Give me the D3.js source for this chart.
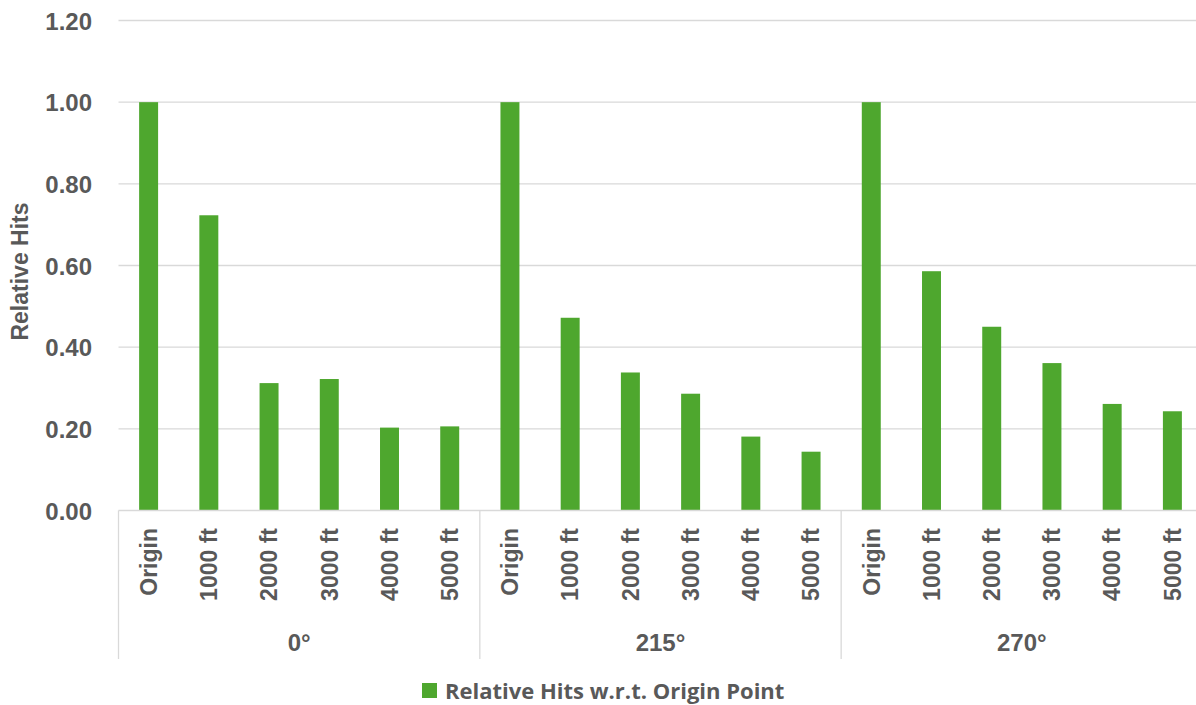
<!DOCTYPE html>
<html>
<head>
<meta charset="utf-8">
<script src="https://cdn.jsdelivr.net/npm/d3@7"></script>
<style>
  html, body { margin: 0; padding: 0; background: #fff; }
  svg { display: block; }
</style>
</head>
<body>
<svg id="chart" width="1196" height="705"></svg>
<script>
// Relative hits per bearing and distance from the origin point
const groups = ["0°", "215°", "270°"];
const distances = ["Origin", "1000 ft", "2000 ft", "3000 ft", "4000 ft", "5000 ft"];
const hits0 = [1.00, 0.723, 0.312, 0.322, 0.203, 0.206];
const hits215 = [1.00, 0.472, 0.338, 0.286, 0.181, 0.144];
const hits270 = [1.00, 0.586, 0.450, 0.361, 0.261, 0.243];
const yTicks = [0, 0.2, 0.4, 0.6, 0.8, 1.0, 1.2];
const seriesName = "Relative Hits w.r.t. Origin Point";
const yTitle = "Relative Hits";

(function () {
  const seriesByGroup = [hits0, hits215, hits270];
  const rows = [];
  groups.forEach((g, gi) => {
    distances.forEach((d, di) => {
      rows.push({ key: g + "|" + d, group: g, dist: d, value: seriesByGroup[gi][di] });
    });
  });

  const textColor = "#595959";
  const gridColor = "#D9D9D9";
  const barColor = "#4EA72E";
  const font = "'Liberation Sans', Arial, sans-serif";

  const svg = d3.select("#chart");
  const plotLeft = 118.5, plotRight = 1202.5, plotTop = 20.5, plotBottom = 510.5;

  const x = d3.scaleBand()
    .domain(rows.map(r => r.key))
    .range([plotLeft, plotRight])
    .paddingInner(0.685)
    .paddingOuter(0.3425);

  const y = d3.scaleLinear().domain([0, 1.2]).range([plotBottom, plotTop]);

  // horizontal gridlines
  svg.append("g")
    .selectAll("line")
    .data(yTicks.filter(t => t > 0))
    .join("line")
    .attr("x1", plotLeft).attr("x2", plotRight)
    .attr("y1", d => y(d)).attr("y2", d => y(d))
    .attr("stroke", gridColor).attr("stroke-width", 1.3);

  // y axis tick labels
  const yAxis = d3.axisLeft(y).tickValues(yTicks).tickFormat(d3.format(".2f")).tickSize(0).tickPadding(0);
  const yg = svg.append("g").attr("transform", "translate(92,0)").call(yAxis);
  yg.select(".domain").remove();
  yg.selectAll("text")
    .attr("fill", textColor)
    .attr("font-family", font)
    .attr("font-weight", "bold")
    .attr("font-size", 24)
    .attr("dy", "0.36em");

  // bars
  svg.append("g")
    .selectAll("rect")
    .data(rows)
    .join("rect")
    .attr("x", d => x(d.key))
    .attr("width", x.bandwidth())
    .attr("y", d => y(d.value))
    .attr("height", d => y(0) - y(d.value))
    .attr("fill", barColor);

  // category axis line
  svg.append("line")
    .attr("x1", plotLeft).attr("x2", plotRight)
    .attr("y1", plotBottom).attr("y2", plotBottom)
    .attr("stroke", gridColor).attr("stroke-width", 1.3);

  // group separators
  const groupWidth = (plotRight - plotLeft) / groups.length;
  svg.append("g")
    .selectAll("line")
    .data(d3.range(groups.length + 1))
    .join("line")
    .attr("x1", i => plotLeft + i * groupWidth).attr("x2", i => plotLeft + i * groupWidth)
    .attr("y1", plotBottom).attr("y2", 659)
    .attr("stroke", gridColor).attr("stroke-width", 1.3);

  // distance labels (rotated)
  svg.append("g")
    .selectAll("text")
    .data(rows)
    .join("text")
    .attr("transform", d => `translate(${x(d.key) + x.bandwidth() / 2},528) rotate(-90)`)
    .attr("text-anchor", "end")
    .attr("dy", "0.36em")
    .attr("fill", textColor)
    .attr("font-family", font)
    .attr("font-weight", "bold")
    .attr("font-size", 23)
    .text(d => d.dist);

  // group labels
  svg.append("g")
    .selectAll("text")
    .data(groups)
    .join("text")
    .attr("x", (g, i) => plotLeft + (i + 0.5) * groupWidth)
    .attr("y", 651)
    .attr("text-anchor", "middle")
    .attr("fill", textColor)
    .attr("font-family", font)
    .attr("font-weight", "bold")
    .attr("font-size", 24)
    .text(d => d);

  // y axis title
  svg.append("text")
    .attr("transform", `translate(20,${(plotTop + plotBottom) / 2 + 6}) rotate(-90)`)
    .attr("text-anchor", "middle")
    .attr("dy", "0.36em")
    .attr("fill", textColor)
    .attr("font-family", font)
    .attr("font-weight", "bold")
    .attr("font-size", 23)
    .text(yTitle);

  // legend
  const legend = svg.append("g");
  legend.append("rect")
    .attr("x", 422).attr("y", 683)
    .attr("width", 15).attr("height", 15)
    .attr("fill", barColor);
  legend.append("text")
    .attr("x", 445).attr("y", 699)
    .attr("fill", textColor)
    .attr("font-family", "'Open Sans', Lato, sans-serif")
    .attr("font-weight", "bold")
    .attr("font-size", 22)
    .text(seriesName);
})();
</script>
</body>
</html>
